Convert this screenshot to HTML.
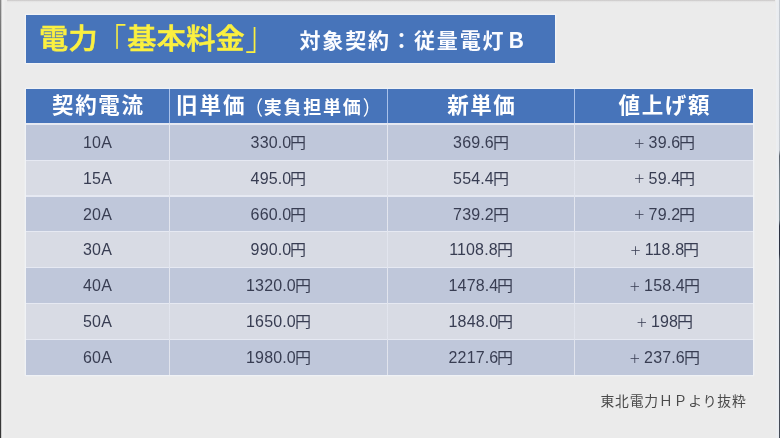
<!DOCTYPE html>
<html lang="ja">
<head>
<meta charset="utf-8">
<title>電力「基本料金」</title>
<style>
html,body{margin:0;padding:0;}
body{width:780px;height:438px;overflow:hidden;background:#ebebeb;position:relative;
  font-family:"Liberation Sans","Noto Sans CJK JP",sans-serif;}
.abs{position:absolute;}
#edgeL{left:0;top:0;width:7px;height:438px;background:linear-gradient(to right,#2e2e2e 0,#3c3c3c 0.75px,#a0a0a0 1.2px,#ececec 1.7px,#f0f0f0 3px,#ebebeb 5.5px);}
#edgeL2{left:0;top:0;width:2px;height:120px;background:linear-gradient(to bottom,rgba(200,200,200,.55) 0,rgba(200,200,200,.3) 60px,rgba(200,200,200,0) 120px);}
#edgeR{right:0;top:0;width:5px;height:438px;background:linear-gradient(to left,#b2b9c2 0,#c6cbd2 0.55px,#e8ebef 1.0px,#eceef1 3.5px,#ebebeb 4.5px);}
#edgeR2{right:0;top:150px;width:1.3px;height:288px;background:linear-gradient(to bottom,rgba(80,88,100,0) 0,#5a626c 6px,#77838c 30px,#7f8c94 70px,#2b3140 76px,#2b3140 104px,#59606a 110px,#4a515c 200px,#444a55 288px);}
#edgeT{left:0;top:0;width:780px;height:3px;background:linear-gradient(to bottom,#cdcbcb 0,#d3d1d1 0.8px,#e6e6e6 1.6px,#ebebeb 3px);}
#title{left:26px;top:15px;width:529px;height:47.8px;background:#4774ba;box-shadow:0 0 1.2px 0.9px #f3f5f9;}
#t1{left:38.8px;top:15px;height:48px;line-height:49.4px;font-size:28px;letter-spacing:0.3px;transform:scaleX(1.04);transform-origin:0 0;font-weight:500;-webkit-text-stroke:0.6px #fbf040;color:#fbf040;white-space:nowrap;}
#t1 span{display:inline-block;font-weight:300;-webkit-text-stroke:0.1px #fbf040;}
#t1 .bl{transform:translate(-0.5px,4.2px) scaleY(1.32);}
#t1 .br{transform:translate(0.3px,-3.6px) scaleY(1.38);}
#t2{left:299.4px;top:15px;height:48px;line-height:52px;font-size:21px;letter-spacing:1.9px;font-weight:700;color:#fbfcff;white-space:nowrap;}
#tbl{left:26px;top:89.2px;width:727px;height:285.6px;background:#e6e9f2;box-shadow:0 0 1.2px 0.8px #f2f4f8;}
.hd{position:absolute;top:0;height:34px;background:#4774ba;color:#fff;font-weight:700;font-size:21.5px;letter-spacing:1.6px;text-indent:1.6px;line-height:34px;text-align:center;white-space:nowrap;}
.hd small{font-size:18px;letter-spacing:1.8px;margin-left:-2.5px;position:relative;top:0.9px;}
.hd small em{font-style:normal;font-weight:400;display:inline-block;transform:scaleY(1.1);}
.hd small em:first-child{transform:translateX(1.2px) scaleY(1.1);}
.hd.h2{text-align:left;text-indent:0;padding-left:6px;box-sizing:border-box;}
.hd b{letter-spacing:1.95px;font-weight:700;}
.row{position:absolute;left:0;width:727px;height:34.7px;}
.row.d{background:#bfc7da;}
.row.l{background:#d8dbe4;}
.c{position:absolute;top:0;height:100%;line-height:35.2px;font-size:16px;letter-spacing:0.15px;color:#383d52;text-align:center;white-space:nowrap;}
.c i{display:inline-block;transform:scaleX(1.07);transform-origin:100% 50%;font-style:normal;font-size:15px;font-weight:400;letter-spacing:0;}
.c u{text-decoration:none;display:inline-block;width:16px;font-size:11.6px;letter-spacing:0;text-align:center;position:relative;top:-0.3px;left:-1.2px;}
.c1,.h1{left:0;width:143px;}
.c2,.h2{left:144px;width:217px;}
.c3,.h3{left:362px;width:186px;}
.c4,.h4{left:549px;width:178px;}
.vl{position:absolute;top:0;width:1px;height:286px;background:linear-gradient(to bottom,#a9c1ea 0,#a9c1ea 33.5px,#e3e6ef 34.5px,#e1e4ed 100%);}
#foot{left:600.4px;top:389px;font-size:13.8px;letter-spacing:0.85px;line-height:25px;color:#4a4a4a;white-space:nowrap;}
</style>
</head>
<body>
<div id="edgeT" class="abs"></div>
<div id="edgeL" class="abs"></div>
<div id="edgeL2" class="abs"></div>
<div id="edgeR" class="abs"></div>
<div id="edgeR2" class="abs"></div>
<div id="title" class="abs"></div>
<div id="t1" class="abs">電力<span class="bl">「</span>基本料金<span class="br">」</span></div>
<div id="t2" class="abs">対象契約：従量電灯Ｂ</div>
<div id="tbl" class="abs">
  <div class="hd h1">契約電流</div>
  <div class="hd h2"><b>旧単価</b><small><em>（</em>実負担単価<em>）</em></small></div>
  <div class="hd h3">新単価</div>
  <div class="hd h4">値上げ額</div>
  <div class="row d" style="top:35.8px"><div class="c c1">10A</div><div class="c c2">330.0<i>円</i></div><div class="c c3">369.6<i>円</i></div><div class="c c4"><u>＋</u>39.6<i>円</i></div></div>
  <div class="row l" style="top:71.6px"><div class="c c1">15A</div><div class="c c2">495.0<i>円</i></div><div class="c c3">554.4<i>円</i></div><div class="c c4"><u>＋</u>59.4<i>円</i></div></div>
  <div class="row d" style="top:107.4px"><div class="c c1">20A</div><div class="c c2">660.0<i>円</i></div><div class="c c3">739.2<i>円</i></div><div class="c c4"><u>＋</u>79.2<i>円</i></div></div>
  <div class="row l" style="top:143.2px"><div class="c c1">30A</div><div class="c c2">990.0<i>円</i></div><div class="c c3">1108.8<i>円</i></div><div class="c c4"><u>＋</u>118.8<i>円</i></div></div>
  <div class="row d" style="top:179.0px"><div class="c c1">40A</div><div class="c c2">1320.0<i>円</i></div><div class="c c3">1478.4<i>円</i></div><div class="c c4"><u>＋</u>158.4<i>円</i></div></div>
  <div class="row l" style="top:214.8px"><div class="c c1">50A</div><div class="c c2">1650.0<i>円</i></div><div class="c c3">1848.0<i>円</i></div><div class="c c4"><u>＋</u>198<i>円</i></div></div>
  <div class="row d" style="top:251.0px"><div class="c c1">60A</div><div class="c c2">1980.0<i>円</i></div><div class="c c3">2217.6<i>円</i></div><div class="c c4"><u>＋</u>237.6<i>円</i></div></div>
  <div class="vl" style="left:143px"></div>
  <div class="vl" style="left:361px"></div>
  <div class="vl" style="left:548px"></div>
</div>
<div id="foot" class="abs">東北電力ＨＰより抜粋</div>
</body>
</html>
